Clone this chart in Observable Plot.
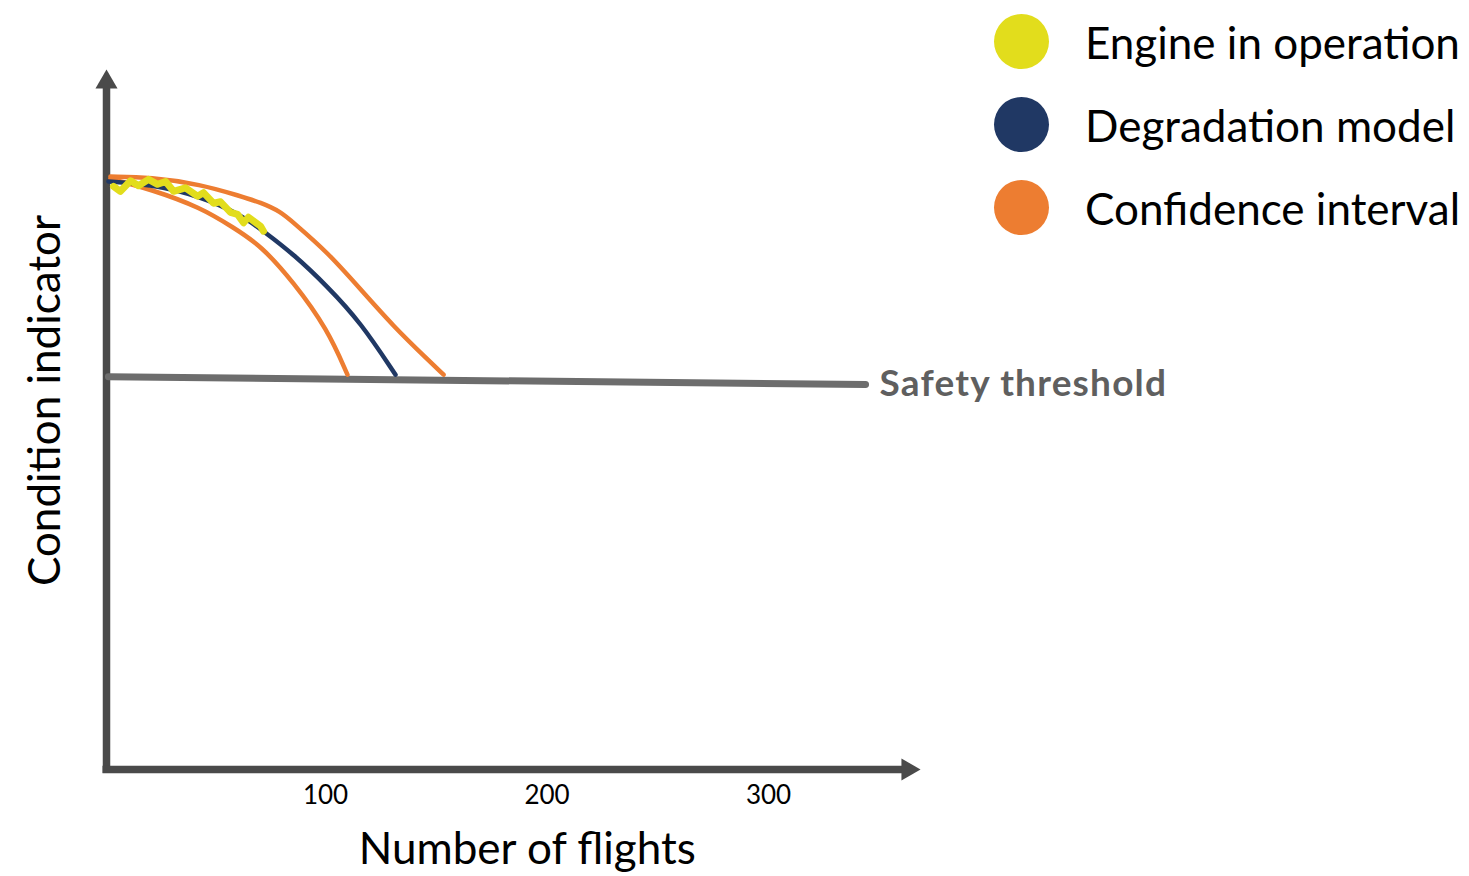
<!DOCTYPE html>
<html>
<head>
<meta charset="utf-8">
<script src="https://cdn.jsdelivr.net/npm/d3@7"></script>
<script src="https://cdn.jsdelivr.net/npm/@observablehq/plot@0.6"></script>
<style>
  html, body { margin: 0; padding: 0; background: #fff; }
  body { width: 1469px; height: 876px; position: relative; overflow: hidden; font-family: Lato, "Open Sans", sans-serif; }
  #legend { position: absolute; left: 994px; top: 14px; }
  .item { display: flex; align-items: center; height: 55px; margin-bottom: 28px; }
  .sw { width: 55px; height: 55px; border-radius: 50%; margin-right: 36px; }
  .lab { font-size: 44px; color: #000; white-space: nowrap; }
  text[aria-label="safety-label"] { letter-spacing: 1.2px; }
</style>
</head>
<body>
<div id="chart"></div>
<div id="legend"></div>
<script>
// ---- data ----
const xTicks = [100, 200, 300];
const xAxisEnd = 368.6;   // number of flights at arrow tip
const yAxisEnd = 100;     // condition indicator at arrow tip

const engineX = [4.3, 7.4, 12.0, 15.6, 20.1, 24.2, 27.8, 31.4, 36.8, 42.2, 44.9, 49.4, 52.6, 57.1, 60.3, 63.0, 65.2, 70.7, 72.0];
const engineY = [83.3, 82.6, 84.1, 83.4, 84.3, 83.6, 84.0, 82.6, 83.1, 81.9, 82.4, 80.9, 81.1, 79.6, 79.3, 78.1, 78.9, 77.6, 76.9];

const modelX = [2.0, 21.0, 43.6, 61.6, 72.9, 85.6, 100.9, 115.8, 131.6];
const modelY = [84.0, 83.6, 81.9, 79.3, 76.7, 73.6, 69.0, 63.9, 56.4];

const upperX = [2.9, 21.0, 43.6, 61.6, 70.7, 79.7, 85.6, 100.9, 115.8, 130.7, 146.0, 153.3];
const upperY = [84.7, 84.6, 83.6, 81.9, 81.0, 79.7, 78.1, 73.9, 68.6, 63.3, 58.6, 56.4];

const lowerX = [2.9, 21.0, 43.6, 58.5, 70.7, 85.6, 100.9, 109.9];
const lowerY = [84.4, 82.9, 80.3, 77.4, 74.9, 69.6, 62.9, 56.4];

const thresholdX = [2, 343.8];
const thresholdY = [56.1, 55.0];

const seriesNames = ["Engine in operation", "Degradation model", "Confidence interval"];
const seriesColors = ["#e2dd1c", "#203864", "#ed7d31"];

// ---- build tables ----
const pts = (xs, ys) => xs.map((x, i) => ({x, y: ys[i]}));
const engine = pts(engineX, engineY);
const model = pts(modelX, modelY);
const upper = pts(upperX, upperY);
const lower = pts(lowerX, lowerY);
const threshold = pts(thresholdX, thresholdY);

const axisGray = "#4a4a4a";
const font = "Lato, 'Open Sans', sans-serif";

const chart = Plot.plot({
  width: 1469,
  height: 876,
  marginLeft: 103.5,
  marginRight: 1469 - 920,
  marginTop: 69,
  marginBottom: 107,
  style: {fontFamily: font, background: "#fff", overflow: "visible"},
  x: {domain: [0, xAxisEnd]},
  y: {domain: [0, yAxisEnd], axis: null},
  marks: [
    Plot.axisX({ticks: xTicks, tickSize: 0, tickPadding: 16, fontSize: 26, label: null, fill: "#000"}),
    // y axis (y1 is the top end so that insetTop trims below the arrowhead)
    Plot.ruleX([0], {y1: yAxisEnd, y2: 0, stroke: axisGray, strokeWidth: 7.5, dx: 2.5, insetTop: 16, insetBottom: -4}),
    // x axis
    Plot.ruleY([0], {x1: 0, x2: xAxisEnd, stroke: axisGray, strokeWidth: 7.5, insetRight: 16, insetLeft: -1}),
    Plot.dot([{x: 0, y: yAxisEnd}], {x: "x", y: "y", symbol: "triangle", r: 8.2, fill: axisGray, stroke: null, dx: 2.5, dy: 12.7}),
    Plot.dot([{x: xAxisEnd, y: 0}], {x: "x", y: "y", symbol: "triangle", r: 8.2, fill: axisGray, stroke: null, dx: -12.7, rotate: 90}),
    // safety threshold
    Plot.line(threshold, {x: "x", y: "y", stroke: "#6d6d6d", strokeWidth: 7}),
    Plot.text([threshold[threshold.length - 1]], {x: "x", y: "y", text: () => "Safety threshold", textAnchor: "start", dx: 14, fontSize: 37, fontWeight: "bold", fill: "#5f5f5f", ariaLabel: () => "safety-label"}),
    // confidence interval
    Plot.line(upper, {x: "x", y: "y", stroke: seriesColors[2], strokeWidth: 4.5, curve: "basis"}),
    Plot.line(lower, {x: "x", y: "y", stroke: seriesColors[2], strokeWidth: 4.5, curve: "basis"}),
    // degradation model
    Plot.line(model, {x: "x", y: "y", stroke: seriesColors[1], strokeWidth: 4.5, curve: "basis"}),
    // engine in operation
    Plot.line(engine, {x: "x", y: "y", stroke: seriesColors[0], strokeWidth: 7, strokeLinejoin: "round", strokeLinecap: "round"}),
    // axis titles
    Plot.text(["Number of flights"], {frameAnchor: "bottom", text: d => d, dx: 15, dy: 94, fontSize: 44, fill: "#000"}),
    Plot.text(["Condition indicator"], {frameAnchor: "left", textAnchor: "middle", text: d => d, rotate: -90, dx: -58, dy: -19, fontSize: 44, fill: "#000"})
  ]
});
document.getElementById("chart").appendChild(chart);

const legend = document.getElementById("legend");
seriesNames.forEach((name, i) => {
  const item = document.createElement("div");
  item.className = "item";
  const sw = document.createElement("div");
  sw.className = "sw";
  sw.style.background = seriesColors[i];
  const lab = document.createElement("div");
  lab.className = "lab";
  lab.textContent = name;
  item.appendChild(sw);
  item.appendChild(lab);
  legend.appendChild(item);
});
</script>
</body>
</html>
